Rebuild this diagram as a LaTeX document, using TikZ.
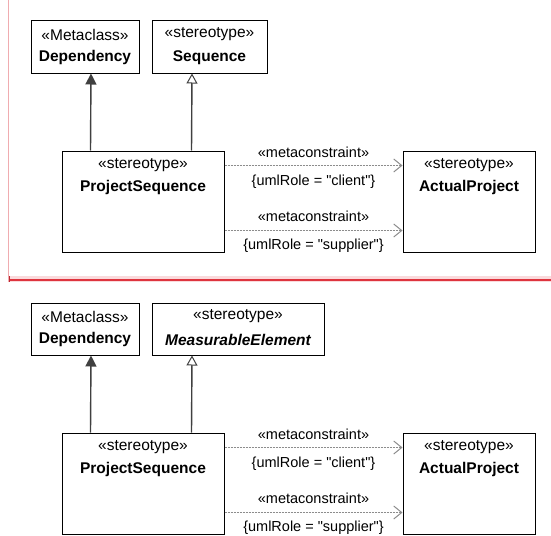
\documentclass[tikz,border=0pt]{standalone}
\usepackage{fontspec}
\setmainfont{Liberation Sans}[Ligatures=TeXOff]
\usetikzlibrary{arrows.meta}
\definecolor{rulepink}{RGB}{240,172,176}
\definecolor{bandpink}{RGB}{250,218,220}
\definecolor{rulered}{RGB}{222,52,62}
\definecolor{tickred}{RGB}{190,40,50}
\tikzset{
  classbox/.style={draw=black, line width=1pt, fill=white, inner sep=0pt},
  stereolabel/.style={font=\fontsize{15.5}{18}\selectfont, inner sep=0pt},
  namelabel/.style={font=\fontsize{15.5}{18}\selectfont\bfseries, inner sep=0pt},
  abstractlabel/.style={font=\fontsize{15.5}{18}\selectfont\bfseries\itshape, inner sep=0pt},
  genline/.style={line width=1.4pt, draw=black!75},
  extendarrow/.style={-{Triangle[length=11pt,width=11pt,fill=black!75]}},
  realizearrow/.style={-{Triangle[open,length=10pt,width=11pt,line width=1pt]}},
  constrline/.style={draw=black!45, line width=1pt, dash pattern=on 2pt off 1pt,
    -{Straight Barb[length=8pt,width=13pt,line width=1pt]}},
  constrlabel/.style={font=\fontsize{14.5}{17}\selectfont, inner sep=0pt, text=black},
}

\begin{document}
\begin{tikzpicture}[x=1pt, y=-1pt]
\useasboundingbox (0,0) rectangle (551,535);
\fill[bandpink] (9,276) rectangle (551,282);
\draw[rulered, line width=1.3pt] (9,280) -- (551,280);
\draw[rulepink, line width=1pt] (8.3,0) -- (8.3,282);
\draw[tickred, line width=1pt] (9.5,276) -- (9.5,281.5);
\node[classbox, minimum width=108pt, minimum height=52pt] (dep) at (85,47) {};
\node[stereolabel] (depst) at ([yshift=-14pt]dep.north) {«Metaclass»};
\node[namelabel] (depname) at ([yshift=-37pt]dep.north) {Dependency};
\node[classbox, minimum width=115pt, minimum height=52pt] (seq) at (209.5,47) {};
\node[stereolabel] (seqst) at ([yshift=-14pt]seq.north) {«stereotype»};
\node[namelabel] (seqname) at ([yshift=-37pt]seq.north) {Sequence};
\node[classbox, minimum width=162pt, minimum height=101pt] (ps) at (143,201.5) {};
\node[stereolabel] (psst) at ([yshift=-15pt]ps.north) {«stereotype»};
\node[namelabel] (psname) at ([yshift=-37pt]ps.north) {ProjectSequence};
\node[classbox, minimum width=132pt, minimum height=101pt] (ap) at (469,201.5) {};
\node[stereolabel] (apst) at ([yshift=-15pt]ap.north) {«stereotype»};
\node[namelabel] (apname) at ([yshift=-37pt]ap.north) {ActualProject};
\draw[genline, extendarrow] ([xshift=29pt]ps.north west) -- ([xshift=6pt]dep.south);
\draw[genline, realizearrow] ([xshift=130pt]ps.north west) -- ([xshift=-17.5pt]seq.south);
\draw[constrline] ([yshift=-15pt]ps.north east) -- ([yshift=-15pt]ap.north west)
  node[constrlabel, pos=0.5, yshift=13pt] {«metaconstraint»}
  node[constrlabel, pos=0.5, yshift=-16pt] {\{umlRole = "client"\}};
\draw[constrline] ([yshift=-80pt]ps.north east) -- ([yshift=-80pt]ap.north west)
  node[constrlabel, pos=0.5, yshift=14pt] {«metaconstraint»}
  node[constrlabel, pos=0.5, yshift=-15pt] {\{umlRole = "supplier"\}};
\node[classbox, minimum width=108pt, minimum height=52pt] (dep2) at (85,329) {};
\node[stereolabel] (dep2st) at ([yshift=-14pt]dep2.north) {«Metaclass»};
\node[namelabel] (dep2name) at ([yshift=-37pt]dep2.north) {Dependency};
\node[classbox, minimum width=172pt, minimum height=52pt] (meas) at (238,329) {};
\node[stereolabel] (measst) at ([yshift=-14pt]meas.north) {«stereotype»};
\node[abstractlabel] (measname) at ([yshift=-37pt]meas.north) {MeasurableElement};
\node[classbox, minimum width=162pt, minimum height=101pt] (ps2) at (143,483.5) {};
\node[stereolabel] (ps2st) at ([yshift=-15pt]ps2.north) {«stereotype»};
\node[namelabel] (ps2name) at ([yshift=-37pt]ps2.north) {ProjectSequence};
\node[classbox, minimum width=132pt, minimum height=101pt] (ap2) at (469,483.5) {};
\node[stereolabel] (ap2st) at ([yshift=-15pt]ap2.north) {«stereotype»};
\node[namelabel] (ap2name) at ([yshift=-37pt]ap2.north) {ActualProject};
\draw[genline, extendarrow] ([xshift=29pt]ps2.north west) -- ([xshift=6pt]dep2.south);
\draw[genline, realizearrow] ([xshift=130pt]ps2.north west) -- ([xshift=-46pt]meas.south);
\draw[constrline] ([yshift=-15pt]ps2.north east) -- ([yshift=-15pt]ap2.north west)
  node[constrlabel, pos=0.5, yshift=13pt] {«metaconstraint»}
  node[constrlabel, pos=0.5, yshift=-16pt] {\{umlRole = "client"\}};
\draw[constrline] ([yshift=-80pt]ps2.north east) -- ([yshift=-80pt]ap2.north west)
  node[constrlabel, pos=0.5, yshift=14pt] {«metaconstraint»}
  node[constrlabel, pos=0.5, yshift=-15pt] {\{umlRole = "supplier"\}};
\end{tikzpicture}
\end{document}
